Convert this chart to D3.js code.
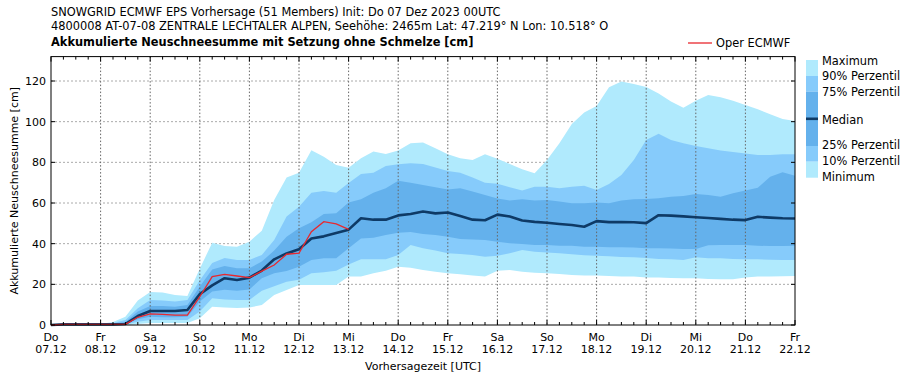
<!DOCTYPE html>
<html>
<head>
<meta charset="utf-8">
<script src="https://cdn.jsdelivr.net/npm/d3@7"></script>
<style>
  body { margin: 0; background: #fff; }
  text { font-family: "DejaVu Sans", sans-serif; font-size: 11px; fill: #000; }
  .big { font-size: 11.4px; }
</style>
</head>
<body>
<svg id="chart" width="909" height="380"></svg>
<script>
// 6-hourly steps from Do 07.12.2023 00UTC to Fr 22.12.2023 00UTC (61 steps)
const start = Date.UTC(2023, 11, 7, 0);
const end = Date.UTC(2023, 11, 22, 0);
const steps = d3.range(61).map(i => new Date(start + i * 6 * 3600 * 1000));

const dayNames = ["Do", "Fr", "Sa", "So", "Mo", "Di", "Mi", "Do", "Fr", "Sa", "So", "Mo", "Di", "Mi", "Do", "Fr"];
const dayDates = ["07.12", "08.12", "09.12", "10.12", "11.12", "12.12", "13.12", "14.12", "15.12", "16.12", "17.12", "18.12", "19.12", "20.12", "21.12", "22.12"];
const yTicks = [0, 20, 40, 60, 80, 100, 120];

const maxV = [0,0.5,0.5,0.5,0.5,1.5,4,12,16.2,16,14.8,14.3,
  27.7,40.5,38.9,38.5,41,46.4,61.5,72.6,74.9,86,82.8,78.7,
  77.3,82,85.3,84.1,85.8,89.4,89.7,86.9,84,82,81.2,84,
  81.8,79.2,76.6,74.6,81.2,89.4,98.9,104.5,107.7,116.9,119.7,118.5,
  117,113.9,109.9,106.9,110.3,113.1,112,110.3,108.2,106.1,103.6,101.3,100.3];
const p90 = [0,0.5,0.5,0.5,0.5,1,2.5,8.2,12.3,12,11.5,12.3,
  22,30.5,33,32,32,34.4,41.8,53.3,58.2,65.1,65.9,65.1,
  69.8,74.3,74.9,78.2,79,79.5,79.2,77.5,75.7,74.9,72.6,70,
  69.5,67.7,66.1,68,68,67.2,68,68.5,66.4,69.4,73.8,81.2,
  91,94,91,89.4,88,86.9,85.8,85.1,84.4,83.6,83.6,84,84];
const p75 = [0,0.4,0.4,0.4,0.4,0.7,1.5,6.6,9.3,9.3,9,9.8,
  18.9,27.3,29,27.9,27.9,31.2,36.6,43.4,47.6,50.5,54.6,54.9,
  60.3,61.8,65.1,67.2,71,70,68.9,67.7,66.7,67.2,65.6,63.9,
  62.2,61.2,61.8,61.2,61.5,60.7,59.9,59.9,60.3,59.9,61.2,61.8,
  62,62.3,63.1,63.5,64.4,63.9,63.1,64.8,66.1,67.5,72.9,75.1,73.4];
const median = [0,0.3,0.3,0.3,0.3,0.3,0.5,4.4,6.9,6.9,6.9,7.4,
  15.2,19.5,23,22.1,23.3,26.8,32.3,35.2,37.3,42.5,43.6,45.2,
  46.9,52.5,51.8,51.8,53.9,54.6,55.8,54.9,55.3,53.6,51.8,51.5,
  54.3,53.4,51.4,50.7,50.3,49.7,49.2,48.3,51.1,50.6,50.6,50.5,
  50.1,54,53.8,53.4,53,52.6,52.2,51.8,51.6,53.2,52.8,52.5,52.4];
const p25 = [0,0.2,0.2,0.2,0.2,0.2,0.5,2.8,4.1,3.8,3.8,4.1,
  11.5,16.5,17.3,16.8,17.5,23,25.5,26.6,28.7,32,32.8,32.8,
  37.8,42.6,42.9,44.3,45.4,45.7,44.8,44.3,43.4,42.3,42.1,41.8,
  41,40.2,39.8,39.4,39.4,39,39,38.5,38.5,38.2,38.2,38.1,
  37.7,37.7,37.6,37.4,37.4,39.2,39.4,39.4,39.4,39,38.8,38.8,39];
const p10 = [0,0,0,0,0,0,0.2,1.6,2.5,2.5,2.5,2.5,
  6.6,13.1,12.6,12.3,12.3,16.8,19,21.3,22.2,25.4,25.9,26.7,
  29.8,32.3,32.3,32.3,34.4,39.4,37.7,36.6,35.3,34.9,34.4,33.6,
  34,35.3,36.9,36,35.7,35.3,34.8,34.3,34.1,33.8,33.4,33.3,
  33,32.5,32.3,32,33.3,32.8,32.8,32.5,32.3,32.3,32.1,32,32];
const minV = [0,0,0,0,0,0,0,0.5,1,1,1,1,
  3.3,9,8.6,8.4,8.6,9.8,14.8,17.2,19.7,19.7,19.7,19.7,
  23.8,23.8,25.4,26.7,28.7,28.2,27,26.2,25.4,24.9,24.3,23.8,
  26.7,27,26.2,25.7,25.4,25.1,24.6,24.4,24.3,24.1,23.8,23.8,
  23.4,23.3,23.1,23,23,22.6,22.5,22.5,23.4,23.8,23.8,24,24.1];
// Oper ECMWF run only reaches 13.12 00UTC
const oper = [0,0.3,0.3,0.3,0.3,0.3,0.3,3.8,5.5,5.2,4.9,4.9,
  13.9,23.8,24.9,24.1,23.3,26.5,29.5,34.8,35.3,45.9,50.8,49.7,47];

const cLight = "#b0eafd", cMid = "#86cbfb", cDark = "#64b1ec", cMed = "#0e3a66", cRed = "#e8282e";

const svg = d3.select("#chart");
const pLeft = 51, pRight = 795, pTop = 56.6, pBottom = 325;

const x = d3.scaleUtc().domain([new Date(start), new Date(end)]).range([pLeft, pRight]);
const y = d3.scaleLinear().domain([0, 132]).range([pBottom, pTop]);

const rows = steps.map((t, i) => ({ t, min: minV[i], p10: p10[i], p25: p25[i], med: median[i], p75: p75[i], p90: p90[i], max: maxV[i] }));

// grid
svg.append("g").selectAll("line")
  .data(yTicks.filter(d => d > 0))
  .join("line")
  .attr("x1", pLeft).attr("x2", pRight)
  .attr("y1", d => y(d)).attr("y2", d => y(d))
  .attr("stroke", "#aaa").attr("stroke-dasharray", "2,2");

const days = d3.utcDay.range(new Date(start), new Date(end + 1));

// bands
const band = (lo, hi) => d3.area().x(d => x(d.t)).y0(d => y(d[lo])).y1(d => y(d[hi]));
svg.append("path").datum(rows).attr("d", band("min", "max")).attr("fill", cLight);
svg.append("path").datum(rows).attr("d", band("p10", "p90")).attr("fill", cMid);
svg.append("path").datum(rows).attr("d", band("p25", "p75")).attr("fill", cDark);

svg.append("g").selectAll("line")
  .data(days.slice(1, -1))
  .join("line")
  .attr("x1", d => x(d)).attr("x2", d => x(d))
  .attr("y1", pTop).attr("y2", pBottom)
  .attr("stroke", "#666").attr("stroke-dasharray", "1.5,2");

svg.append("path").datum(rows)
  .attr("d", d3.line().x(d => x(d.t)).y(d => y(d.med)))
  .attr("fill", "none").attr("stroke", cMed).attr("stroke-width", 2.6).attr("stroke-linejoin", "round");

svg.append("path").datum(oper)
  .attr("d", d3.line().x((d, i) => x(steps[i])).y(d => y(d)))
  .attr("fill", "none").attr("stroke", cRed).attr("stroke-width", 1.3);

// frame
svg.append("rect").attr("x", pLeft).attr("y", pTop).attr("width", pRight - pLeft).attr("height", pBottom - pTop)
  .attr("fill", "none").attr("stroke", "#000").attr("stroke-width", 1);

// ticks: 6h minor, daily major, pointing inward
const sixH = d3.utcHour.every(6).range(new Date(start), new Date(end + 1));
const tickG = svg.append("g").attr("stroke", "#000");
sixH.forEach(t => {
  const len = t.getUTCHours() === 0 ? 5 : 3;
  tickG.append("line").attr("x1", x(t)).attr("x2", x(t)).attr("y1", pBottom).attr("y2", pBottom - len);
  tickG.append("line").attr("x1", x(t)).attr("x2", x(t)).attr("y1", pTop).attr("y2", pTop + len);
});
yTicks.forEach(v => {
  tickG.append("line").attr("x1", pLeft).attr("x2", pLeft + 4).attr("y1", y(v)).attr("y2", y(v));
  tickG.append("line").attr("x1", pRight).attr("x2", pRight - 4).attr("y1", y(v)).attr("y2", y(v));
});

// x labels
const xl = svg.append("g").selectAll("text").data(days).join("text")
  .attr("x", d => x(d)).attr("text-anchor", "middle");
xl.append("tspan").attr("x", d => x(d)).attr("y", 341).text((d, i) => dayNames[i]);
xl.append("tspan").attr("x", d => x(d)).attr("y", 353).text((d, i) => dayDates[i]);

// y labels
svg.append("g").selectAll("text").data(yTicks).join("text")
  .attr("x", 46).attr("y", d => y(d)).attr("dy", "0.35em").attr("text-anchor", "end")
  .text(d => d);

svg.append("text").attr("x", (pLeft + pRight) / 2).attr("y", 370).attr("text-anchor", "middle")
  .text("Vorhersagezeit [UTC]");
svg.append("text").attr("transform", `translate(18,${(pTop + pBottom) / 2}) rotate(-90)`)
  .attr("text-anchor", "middle").text("Akkumulierte Neuschneesumme [cm]");

// titles
svg.append("text").attr("class", "big").attr("x", 51).attr("y", 16)
  .text("SNOWGRID ECMWF EPS Vorhersage (51 Members) Init: Do 07 Dez 2023 00UTC");
svg.append("text").attr("class", "big").attr("x", 51).attr("y", 30)
  .text("4800008 AT-07-08 ZENTRALE LECHTALER ALPEN, Seehöhe: 2465m Lat: 47.219° N Lon: 10.518° O");
svg.append("text").attr("class", "big").attr("x", 51).attr("y", 46).style("font-weight", "bold")
  .text("Akkumulierte Neuschneesumme mit Setzung ohne Schmelze [cm]");

// oper legend
svg.append("line").attr("x1", 688).attr("x2", 712).attr("y1", 43).attr("y2", 43)
  .attr("stroke", cRed).attr("stroke-width", 1.3);
svg.append("text").attr("class", "big").attr("x", 716).attr("y", 47).text("Oper ECMWF");

// percentile legend
const lg = svg.append("g");
const segs = [[60, 76, cLight], [76, 91.7, cMid], [91.7, 146, cDark], [146, 161.7, cMid], [161.7, 177.7, cLight]];
segs.forEach(s => lg.append("rect").attr("x", 806).attr("y", s[0]).attr("width", 12).attr("height", s[1] - s[0]).attr("fill", s[2]));
lg.append("rect").attr("x", 806).attr("y", 117.5).attr("width", 12).attr("height", 2.6).attr("fill", cMed);
const legendLabels = ["Maximum", "90% Perzentil", "75% Perzentil", "Median", "25% Perzentil", "10% Perzentil", "Minimum"];
const legendY = [61, 76.5, 92, 120, 145.5, 161.5, 177];
lg.selectAll("text").data(legendLabels).join("text").attr("class", "big")
  .attr("x", 822).attr("y", (d, i) => legendY[i]).attr("dy", "0.35em").text(d => d);
</script>
</body>
</html>
